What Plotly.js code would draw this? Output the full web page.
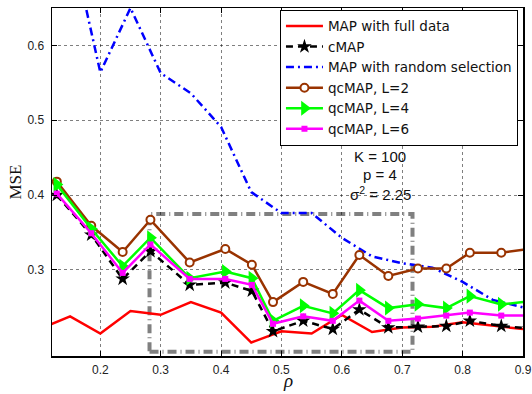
<!DOCTYPE html>
<html>
<head>
<meta charset="utf-8">
<script src="https://cdn.plot.ly/plotly-3.0.1.min.js"></script>
<style>html,body{margin:0;padding:0;background:#fff}#chart{width:532px;height:394px}</style>
</head>
<body>
<div id="chart"></div>
<script>
// rho values on the regular grid (full data & random selection)
const rhoGrid = [0.10, 0.15, 0.20, 0.25, 0.30, 0.35, 0.40, 0.45, 0.50, 0.55, 0.60, 0.65, 0.70, 0.75, 0.80, 0.85, 0.90];
const mseFull = [0.221, 0.238, 0.215, 0.245, 0.240, 0.257, 0.243, 0.203, 0.218, 0.215, 0.240, 0.217, 0.223, 0.224, 0.230, 0.226, 0.221];
const mseRandom = [0.80, 0.745, 0.564, 0.650, 0.563, 0.536, 0.491, 0.404, 0.376, 0.376, 0.343, 0.318, 0.309, 0.303, 0.284, 0.260, 0.250];

// rho values of the cMAP / qcMAP runs
const rhoRuns = [0.128, 0.185, 0.237, 0.283, 0.348, 0.407, 0.451, 0.486, 0.536, 0.585, 0.629, 0.677, 0.726, 0.773, 0.812, 0.864, 0.91];
const mseCMAP = [0.400, 0.347, 0.288, 0.325, 0.280, 0.283, 0.272, 0.218, 0.232, 0.221, 0.247, 0.223, 0.224, 0.225, 0.232, 0.225, 0.222];
const mseL2 = [0.418, 0.359, 0.324, 0.367, 0.310, 0.328, 0.307, 0.257, 0.284, 0.268, 0.320, 0.292, 0.302, 0.302, 0.323, 0.323, 0.328];
const mseL4 = [0.414, 0.355, 0.305, 0.343, 0.289, 0.298, 0.289, 0.232, 0.252, 0.242, 0.273, 0.249, 0.254, 0.249, 0.265, 0.254, 0.258];
const mseL6 = [0.402, 0.349, 0.296, 0.334, 0.288, 0.288, 0.280, 0.228, 0.238, 0.232, 0.259, 0.232, 0.235, 0.239, 0.243, 0.239, 0.239];

const seriesNames = ["MAP with full data", "cMAP", "MAP with random selection", "qcMAP, L=2", "qcMAP, L=4", "qcMAP, L=6"];
const xTicks = [0.2, 0.3, 0.4, 0.5, 0.6, 0.7, 0.8, 0.9];
const yTicks = [0.3, 0.4, 0.5, 0.6];
const paramLines = ["K = 100", "p = 4", "σ<sup>2</sup> = 2.25"];
const xTitle = "ρ";
const yTitle = "MSE";
const zoomBox = {x0: 0.2815, x1: 0.717, y0: 0.1906, y1: 0.3747};

const traces = [
  {x: rhoGrid, y: mseFull, name: seriesNames[0], mode: "lines",
   line: {color: "#ff0000", width: 2.5}},
  {x: rhoRuns, y: mseCMAP, name: seriesNames[1], mode: "lines+markers",
   line: {color: "#000000", width: 2.5, dash: "7px,5px"},
   marker: {symbol: "star", size: 11, color: "#000000"}},
  {x: rhoGrid, y: mseRandom, name: seriesNames[2], mode: "lines",
   line: {color: "#0000ff", width: 2.5, dash: "8px,4px,2px,4px"}},
  {x: rhoRuns, y: mseL2, name: seriesNames[3], mode: "lines+markers",
   line: {color: "#993300", width: 2.5},
   marker: {symbol: "circle", size: 8, color: "#ffffff", line: {color: "#993300", width: 2}}},
  {x: rhoRuns, y: mseL4, name: seriesNames[4], mode: "lines+markers",
   line: {color: "#00ff00", width: 2.5},
   marker: {symbol: "triangle-right", size: 13, color: "#00ff00"}},
  {x: rhoRuns, y: mseL6, name: seriesNames[5], mode: "lines+markers",
   line: {color: "#ff00ff", width: 2.5},
   marker: {symbol: "square", size: 6, color: "#ff00ff"}}
];

const annX = 0.664;
const annY = [0.4515, 0.427, 0.4027];
const annotations = paramLines.map((t, i) => ({
  x: annX, y: annY[i], xref: "x", yref: "y", text: t, showarrow: false,
  font: {family: "Liberation Sans, Arial, sans-serif", size: 15, color: "#111"}
}));
annotations.push({
  x: 0.5, y: -0.07, xref: "paper", yref: "paper", yanchor: "middle", text: xTitle, showarrow: false,
  borderpad: 0,
  font: {family: "Liberation Serif, Times New Roman, serif", size: 19, color: "#111", style: "italic"}
});

const axisCommon = {
  showline: true, linecolor: "#000", linewidth: 1.5, mirror: "ticks",
  ticks: "inside", ticklen: 5, tickcolor: "#000", tickwidth: 1,
  showgrid: true, gridcolor: "rgba(0,0,0,0.5)", gridwidth: 1, griddash: "dot",
  zeroline: false, automargin: false,
  tickfont: {family: "Liberation Sans, Arial, sans-serif", size: 12, color: "#222"}
};

const layout = {
  width: 532, height: 394,
  margin: {l: 52, r: 9, t: 8, b: 38},
  paper_bgcolor: "#fff", plot_bgcolor: "#fff",
  showlegend: true,
  legend: {
    x: 0.484, y: 0.995, xanchor: "left", yanchor: "top",
    bgcolor: "#fff", bordercolor: "#000", borderwidth: 1,
    font: {family: "DejaVu Sans, sans-serif", size: 13.5, color: "#111"},
    itemwidth: 37
  },
  xaxis: Object.assign({}, axisCommon, {
    range: [0.12, 0.9], tickvals: xTicks, ticklabelstandoff: 2
  }),
  yaxis: Object.assign({}, axisCommon, {
    range: [0.185, 0.65], tickvals: yTicks, ticklabelstandoff: 4,
    title: {text: yTitle, standoff: 1, font: {family: "Liberation Serif, Times New Roman, serif", size: 17, color: "#111"}}
  }),
  shapes: [{
    type: "rect", xref: "x", yref: "y",
    x0: zoomBox.x0, x1: zoomBox.x1, y0: zoomBox.y0, y1: zoomBox.y1,
    line: {color: "#808080", width: 4, dash: "9px,4px,1px,4px"}, layer: "below"
  }],
  annotations: annotations
};

Plotly.newPlot("chart", traces, layout, {displayModeBar: false, staticPlot: true});
</script>
</body>
</html>
